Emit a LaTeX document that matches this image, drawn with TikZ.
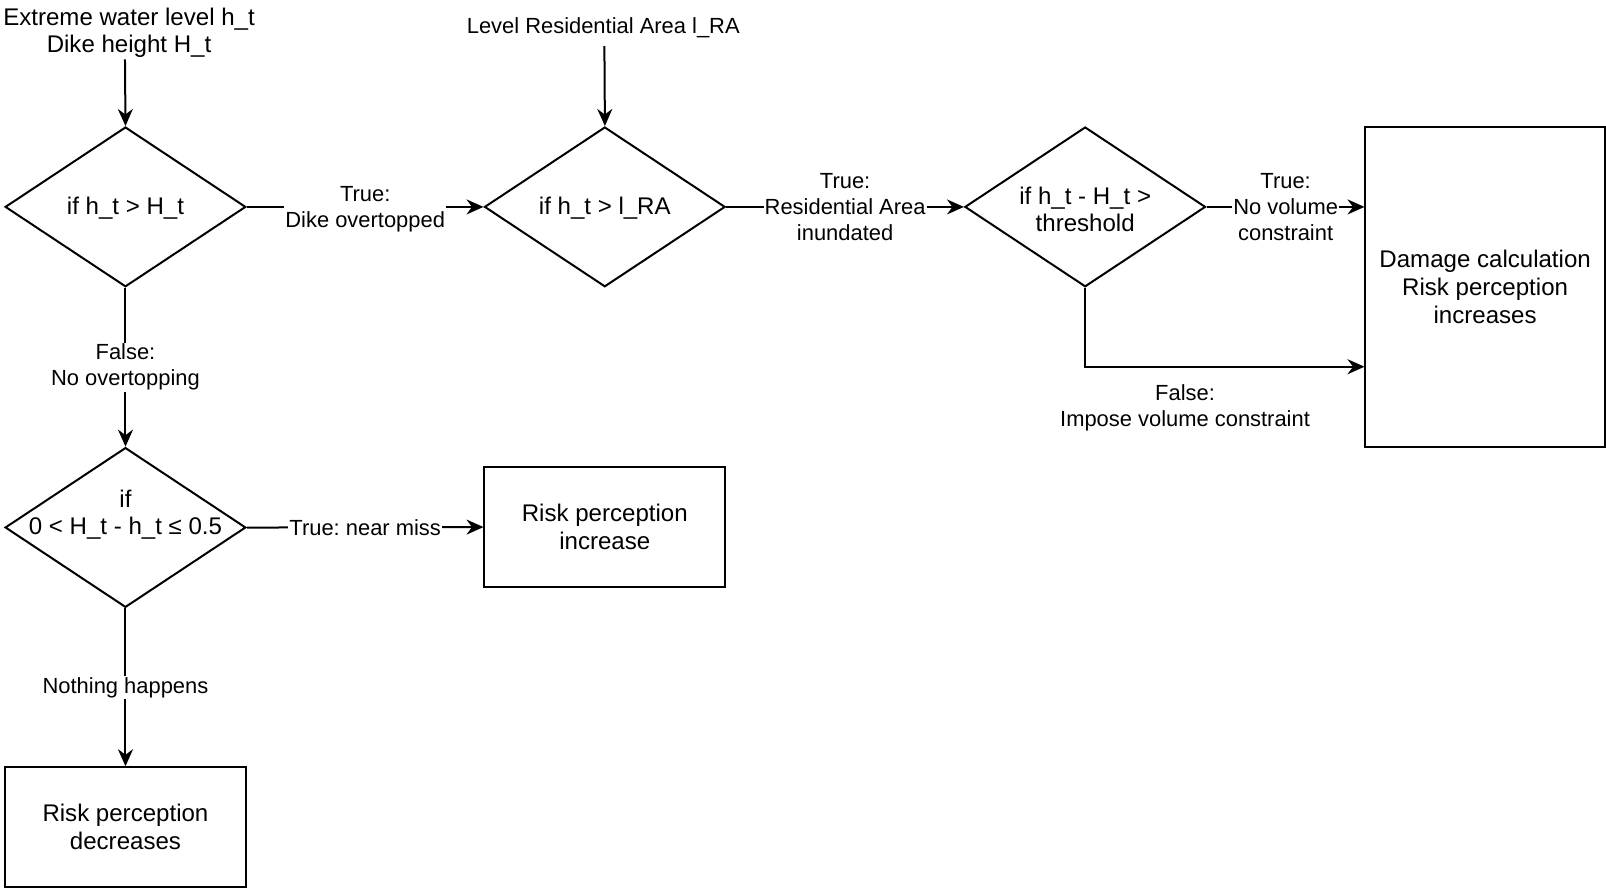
\documentclass[tikz,border=0pt]{standalone}
\usepackage{fontspec}
\setmainfont{Liberation Sans}
\usetikzlibrary{shapes.geometric,arrows.meta}
\frenchspacing
\begin{document}
\begin{tikzpicture}[x=1pt,y=-1pt,scale=1.0242,transform shape,
  dia/.style={draw, diamond, minimum width=235pt, minimum height=156pt, inner sep=0pt, line width=2pt},
  boxn/.style={draw, rectangle, minimum width=235pt, line width=2pt, inner sep=0pt, align=center, font=\fontsize{23.5}{27}\selectfont},
  ntext/.style={font=\fontsize{23.5}{27}\selectfont, align=center, inner sep=0pt},
  elab/.style={font=\fontsize{21.4}{25.5}\selectfont, align=center, fill=white, inner sep=1pt},
  plab/.style={font=\fontsize{21.4}{25.5}\selectfont, align=center, inner sep=0pt},
  arr/.style={-{Stealth[length=17pt,width=15pt,inset=5.5pt]}, line width=2pt}
]
\useasboundingbox (0,0) rectangle (1568,867);

% inputs
\node[ntext] (in1) at (126,32) {Extreme water level h\_t\\Dike height H\_t};
\node[plab] (in2) at (589,27) {Level Residential Area l\_RA};
\coordinate (s1) at (122,58);
\coordinate (s2) at (590,45);

% diamonds
\node[dia] (d1) at (122.5,202) {};
\node[ntext] at (122.5,203.5) {if h\_t > H\_t};
\node[dia] (d2) at (590.5,202) {};
\node[ntext] at (590.5,203.5) {if h\_t > l\_RA};
\node[dia] (d3) at (1059.5,202) {};
\node[ntext] at (1059.5,204.5) {if h\_t - H\_t >\\threshold};
\node[dia] (d4) at (122.5,515) {};
\node[ntext] at (122.5,502.5) {if\\0 < H\_t - h\_t ≤ 0.5};

% boxes
\node[boxn, minimum height=312pt, minimum width=234pt] (dmg) at (1450,280) {Damage calculation\\Risk perception\\increases};
\node[boxn, minimum height=117pt] (inc) at (590.5,514.5) {Risk perception\\increase};
\node[boxn, minimum height=117pt] (dec) at (122.5,807.5) {Risk perception\\decreases};

% connectors
\draw[arr] (s1) -- (d1.north);
\draw[arr] (s2) -- (d2.north);
\draw[arr] (d1.east) -- node[elab, yshift=-2pt] {True:\\Dike overtopped} (d2.west);
\draw[arr] (d2.east) -- node[elab] {True:\\Residential Area\\inundated} (d3.west);
\draw[arr] (d3.east) -- node[elab] {True:\\No volume\\constraint} (d3.east -| dmg.west);
\draw[arr] (d3.south) |- ([yshift=-78pt]dmg.west);
\node[plab] (fl) at (1157,398.5) {False:\\Impose volume constraint};
\draw[arr] (d1.south) -- node[elab] {False:\\No overtopping} (d4.north);
\draw[arr] (d4.east) -- node[elab] {True: near miss} (inc.west);
\draw[arr] (d4.south) -- node[elab] {Nothing happens} (dec.north);
\end{tikzpicture}
\end{document}
